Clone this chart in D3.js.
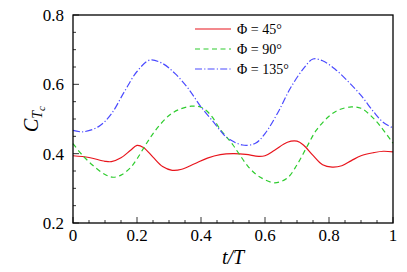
<!DOCTYPE html>
<html>
<head>
<meta charset="utf-8">
<script src="https://cdn.jsdelivr.net/npm/d3@7"></script>
<style>
  body { margin: 0; background: #fff; }
</style>
</head>
<body>
<svg id="chart"></svg>
<script>
// values (t/T, C_Tc)
const phi45T = [0, 0.05, 0.1, 0.12, 0.15, 0.18, 0.2, 0.22, 0.25, 0.28, 0.31, 0.34, 0.38, 0.42, 0.46, 0.5, 0.54, 0.58, 0.6, 0.63, 0.67, 0.7, 0.72, 0.75, 0.78, 0.81, 0.84, 0.87, 0.9, 0.94, 0.97, 1.0];
const phi45 = [0.394, 0.389, 0.378, 0.377, 0.388, 0.41, 0.424, 0.418, 0.39, 0.363, 0.352, 0.355, 0.371, 0.387, 0.397, 0.4, 0.398, 0.392, 0.394, 0.41, 0.433, 0.436, 0.425, 0.395, 0.368, 0.361, 0.365, 0.38, 0.394, 0.403, 0.407, 0.405];

const phi90T = [0, 0.03, 0.0625, 0.1, 0.125, 0.15, 0.18, 0.2, 0.23, 0.26, 0.3, 0.33, 0.37, 0.4, 0.43, 0.46, 0.48, 0.5, 0.52, 0.55, 0.58, 0.63, 0.67, 0.7, 0.73, 0.76, 0.8, 0.83, 0.87, 0.9, 0.93, 0.96, 1.0];
const phi90 = [0.429, 0.395, 0.366, 0.34, 0.332, 0.338, 0.36, 0.385, 0.43, 0.47, 0.51, 0.527, 0.537, 0.534, 0.512, 0.47, 0.448, 0.425, 0.398, 0.36, 0.335, 0.316, 0.33, 0.368, 0.418, 0.467, 0.508, 0.526, 0.535, 0.531, 0.51, 0.48, 0.43];

const phi135T = [0, 0.03, 0.08, 0.12, 0.16, 0.2, 0.24, 0.28, 0.32, 0.36, 0.4, 0.44, 0.46, 0.48, 0.53, 0.57, 0.6, 0.64, 0.68, 0.72, 0.75, 0.78, 0.82, 0.86, 0.9, 0.94, 0.97, 1.0];
const phi135 = [0.467, 0.463, 0.478, 0.515, 0.578, 0.637, 0.67, 0.66, 0.63, 0.588, 0.535, 0.49, 0.467, 0.447, 0.425, 0.43, 0.458, 0.518, 0.59, 0.645, 0.673, 0.668, 0.643, 0.608, 0.568, 0.52, 0.49, 0.474];

const seriesNames = ["Φ = 45°", "Φ = 90°", "Φ = 135°"];
const xTicks = [0, 0.2, 0.4, 0.6, 0.8, 1];
const yTicks = [0.2, 0.4, 0.6, 0.8];

const width = 407, height = 272;
const mLeft = 73, mRight = 393, mTop = 15, mBottom = 223;
const serif = "'Liberation Serif', 'Times New Roman', Tinos, 'DejaVu Serif', serif";

const svg = d3.select("#chart").attr("width", width).attr("height", height)
  .attr("font-family", serif);

const x = d3.scaleLinear().domain([0, 1]).range([mLeft, mRight]);
const y = d3.scaleLinear().domain([0.2, 0.8]).range([mBottom, mTop]);

// inward ticks, minor every 0.05
const tickG = svg.append("g").attr("stroke", "#000").attr("stroke-width", 0.8);
d3.range(0, 1.0001, 0.05).forEach(v => {
  const major = Math.abs(v * 5 - Math.round(v * 5)) < 1e-6;
  tickG.append("line").attr("x1", x(v)).attr("x2", x(v))
    .attr("y1", mBottom).attr("y2", mBottom - (major ? 6 : 3));
});
d3.range(0.2, 0.8001, 0.05).forEach(v => {
  const major = Math.abs(v * 5 - Math.round(v * 5)) < 1e-6;
  tickG.append("line").attr("y1", y(v)).attr("y2", y(v))
    .attr("x1", mLeft).attr("x2", mLeft + (major ? 6 : 3));
});

svg.append("g").selectAll("text").data(xTicks).join("text")
  .attr("x", d => x(d)).attr("y", 241)
  .attr("text-anchor", "middle").attr("font-size", 17)
  .attr("font-family", serif)
  .text(d => d3.format("")(d));

svg.append("g").selectAll("text").data(yTicks).join("text")
  .attr("x", 64).attr("y", d => y(d) + 6)
  .attr("text-anchor", "end").attr("font-size", 17)
  .attr("font-family", serif)
  .text(d => d.toFixed(1));

// curves
const line = d3.line().curve(d3.curveCatmullRom.alpha(0.5))
  .x(d => x(d[0])).y(d => y(d[1]));

const series = [
  { t: phi45T, v: phi45, color: "#e8141c", dash: null },
  { t: phi90T, v: phi90, color: "#2ecc2e", dash: "5,3.5" },
  { t: phi135T, v: phi135, color: "#4a4aff", dash: "7,2.2,1.2,2.2" }
];

const plot = svg.append("g");
series.forEach(s => {
  plot.append("path")
    .datum(s.t.map((t, i) => [t, s.v[i]]))
    .attr("d", line)
    .attr("fill", "none")
    .attr("stroke", s.color)
    .attr("stroke-width", 1.2)
    .attr("stroke-dasharray", s.dash);
});

// frame
svg.append("rect")
  .attr("x", mLeft).attr("y", mTop)
  .attr("width", mRight - mLeft).attr("height", mBottom - mTop)
  .attr("fill", "none").attr("stroke", "#000").attr("stroke-width", 1.3);

// legend
const legend = svg.append("g");
series.forEach((s, i) => {
  const ly = 29 + i * 20;
  legend.append("line")
    .attr("x1", 195).attr("x2", 231).attr("y1", ly).attr("y2", ly)
    .attr("stroke", s.color).attr("stroke-width", 1.2)
    .attr("stroke-dasharray", s.dash);
  legend.append("text")
    .attr("x", 237).attr("y", ly + 5)
    .attr("font-size", 14)
    .attr("font-family", serif)
    .text(seriesNames[i]);
});

// axis titles
svg.append("text")
  .attr("x", 233).attr("y", 264)
  .attr("text-anchor", "middle").attr("font-size", 20)
  .attr("font-style", "italic")
  .attr("font-family", serif)
  .text("t/T");

const yl = svg.append("text")
  .attr("transform", "translate(38,119) rotate(-90)")
  .attr("text-anchor", "middle").attr("font-size", 20)
  .attr("font-style", "italic")
  .attr("font-family", serif);
yl.append("tspan").text("C");
yl.append("tspan").attr("font-size", 14).attr("dy", 4).text("T");
yl.append("tspan").attr("font-size", 11).attr("dy", 3).text("c");
</script>
</body>
</html>
